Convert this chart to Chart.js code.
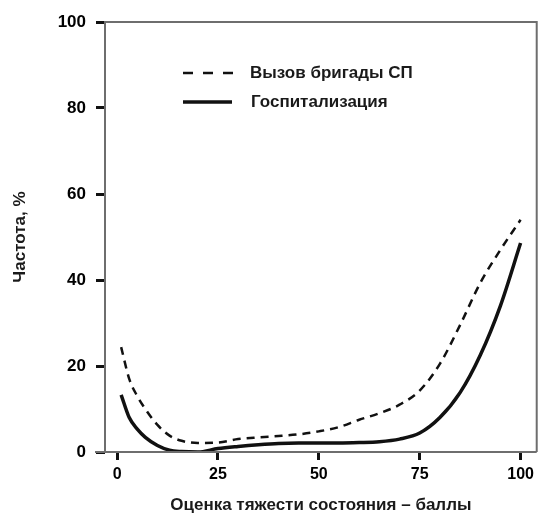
<!DOCTYPE html>
<html>
<head>
<meta charset="utf-8">
<script src="https://cdn.jsdelivr.net/npm/chart.js@4"></script>
<style>
  html, body { margin: 0; padding: 0; background: #fff; }
  #wrap { width: 539px; height: 520px; }
</style>
</head>
<body>
<div id="wrap"><canvas id="freqChart" width="539" height="520"></canvas></div>
<script>
const scores = [1, 3, 5, 7, 10, 13, 16, 20, 25, 30, 35, 40, 45, 50, 55, 60, 65, 70, 75, 80, 85, 90, 95, 100];
const callValues = [24.4, 17, 13, 10, 6.3, 3.8, 2.6, 2.1, 2.2, 3.0, 3.4, 3.7, 4.1, 4.8, 5.8, 7.5, 9.0, 11.0, 14.3, 20.5, 29.5, 39.3, 47, 54];
const hospValues = [13.3, 8, 5.3, 3.4, 1.5, 0.4, 0.1, 0, 0.8, 1.3, 1.7, 2.0, 2.1, 2.1, 2.1, 2.2, 2.4, 3.0, 4.4, 8, 13.8, 22.5, 34, 48.6];
const xTicks = [0, 25, 50, 75, 100];
const yTicks = [0, 20, 40, 60, 80, 100];
const seriesNames = ['Вызов бригады СП', 'Госпитализация'];

const pts = (vals) => scores.map((x, i) => ({ x, y: vals[i] }));

// box around the plot + legend inside the plot area
const framePlugin = {
  id: 'frame',
  afterDraw(chart) {
    const { ctx, chartArea: a } = chart;
    ctx.save();
    ctx.strokeStyle = '#6e6e6e';
    ctx.lineWidth = 2;
    ctx.beginPath();
    ctx.moveTo(a.left, a.bottom);
    ctx.lineTo(a.left, a.top);
    ctx.lineTo(a.right, a.top);
    ctx.lineTo(a.right, a.bottom);
    ctx.moveTo(a.left - 10, a.bottom);
    ctx.lineTo(a.right, a.bottom);
    ctx.stroke();

    // legend
    ctx.strokeStyle = '#111';
    ctx.fillStyle = '#1a1a1a';
    ctx.font = 'bold 17px "Liberation Sans", Arial, sans-serif';
    ctx.textBaseline = 'middle';
    ctx.lineWidth = 2.5;
    ctx.setLineDash([10, 10]);
    ctx.beginPath();
    ctx.moveTo(183, 73);
    ctx.lineTo(233, 73);
    ctx.stroke();
    ctx.setLineDash([]);
    ctx.lineWidth = 3.5;
    ctx.beginPath();
    ctx.moveTo(183, 102);
    ctx.lineTo(232, 102);
    ctx.stroke();
    ctx.fillText(seriesNames[0], 250, 73);
    ctx.fillText(seriesNames[1], 251, 102);
    ctx.restore();
  }
};

const ctx = document.getElementById('freqChart').getContext('2d');
new Chart(ctx, {
  type: 'line',
  data: {
    datasets: [
      {
        label: seriesNames[0],
        data: pts(callValues),
        borderColor: '#111',
        borderWidth: 2.5,
        borderDash: [8, 6],
        pointRadius: 0,
        cubicInterpolationMode: 'monotone',
        fill: false,
      },
      {
        label: seriesNames[1],
        data: pts(hospValues),
        borderColor: '#111',
        borderWidth: 3.5,
        pointRadius: 0,
        cubicInterpolationMode: 'monotone',
        fill: false,
      },
    ],
  },
  options: {
    responsive: false,
    animation: false,
    layout: { padding: { top: 22, right: 2, left: 0, bottom: 0 } },
    plugins: { legend: { display: false }, tooltip: { enabled: false } },
    scales: {
      x: {
        type: 'linear',
        min: -3,
        max: 104,
        afterBuildTicks: (s) => { s.ticks = xTicks.map(v => ({ value: v })); },
        afterFit: (s) => { s.height = 68; },
        border: { display: false },
        grid: { drawOnChartArea: false, tickLength: 8, tickWidth: 3, tickColor: '#111' },
        ticks: {
          color: '#000',
          padding: 5,
          maxRotation: 0,
          font: { family: '"Liberation Sans", Arial, sans-serif', size: 16, weight: 'bold' },
        },
        title: {
          display: true,
          text: 'Оценка тяжести состояния – баллы',
          color: '#1a1a1a',
          padding: { top: 12 },
          font: { family: '"Liberation Sans", Arial, sans-serif', size: 17, weight: 'bold' },
        },
      },
      y: {
        min: 0,
        max: 100,
        afterBuildTicks: (s) => { s.ticks = yTicks.map(v => ({ value: v })); },
        afterFit: (s) => { s.width = 105; },
        border: { display: false },
        grid: { drawOnChartArea: false, tickLength: 9, tickWidth: 3, tickColor: '#111' },
        ticks: {
          color: '#000',
          padding: 10,
          font: { family: '"Liberation Sans", Arial, sans-serif', size: 17, weight: 'bold' },
        },
        title: {
          display: true,
          text: 'Частота, %',
          color: '#1a1a1a',
          padding: { top: 10, bottom: 4 },
          font: { family: '"Liberation Sans", Arial, sans-serif', size: 17, weight: 'bold' },
        },
      },
    },
  },
  plugins: [framePlugin],
});
</script>
</body>
</html>
